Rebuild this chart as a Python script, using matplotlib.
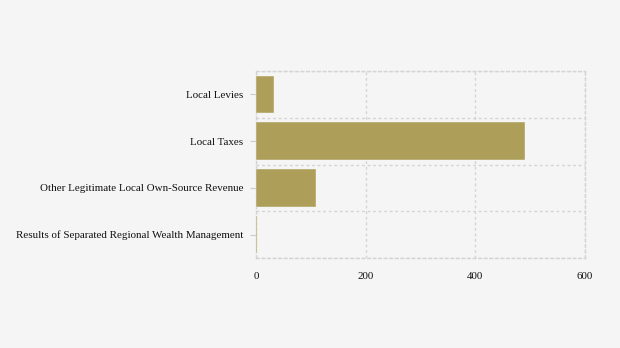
import matplotlib
matplotlib.use("Agg")
import matplotlib.pyplot as plt
import numpy as np

categories = ["Local Levies", "Local Taxes", "Other Legitimate Local Own-Source Revenue",
              "Results of Separated Regional Wealth Management"]
values = [32, 491, 110, 2]
xticks = [0, 200, 400, 600]

plt.rcParams['font.family'] = ['Liberation Serif', 'DejaVu Serif']

fig = plt.figure(figsize=(6.2, 3.48), dpi=100, facecolor='#f5f5f5')
ax = fig.add_axes([256/620, 1-258/348, (585-256)/620, (258-71)/348])
ax.set_facecolor('#f5f5f5')

y = np.arange(len(categories))
ax.barh(y, values, height=0.8, color='#ad9e5a', edgecolor='#f5f5f5', linewidth=0.3, zorder=3)
ax.set_ylim(len(categories)-0.5, -0.5)
ax.set_xlim(0, 600)
ax.set_yticks(y)
ax.set_yticklabels(categories, fontsize=7.9, color='#111111')
ax.set_xticks(xticks)
ax.set_xticklabels([str(t) for t in xticks], fontsize=7.9, color='#111111')
ax.set_yticks(np.arange(-0.5, len(categories), 1.0), minor=True)
ax.tick_params(axis='y', which='major', length=4, color='#cccccc', pad=5)
ax.tick_params(axis='y', which='minor', length=0)
ax.tick_params(axis='x', length=0, pad=10)
ax.grid(axis='x', which='major', color='#d4d4d4', linestyle=(0, (2, 2)), linewidth=1, zorder=0)
ax.grid(axis='y', which='minor', color='#d4d4d4', linestyle=(0, (2, 2)), linewidth=1, zorder=0)
for s in ax.spines.values():
    s.set_color('#d4d4d4')
    s.set_linestyle((0, (2, 2)))
    s.set_linewidth(1)

fig.savefig('out.png', dpi=100, facecolor=fig.get_facecolor())
